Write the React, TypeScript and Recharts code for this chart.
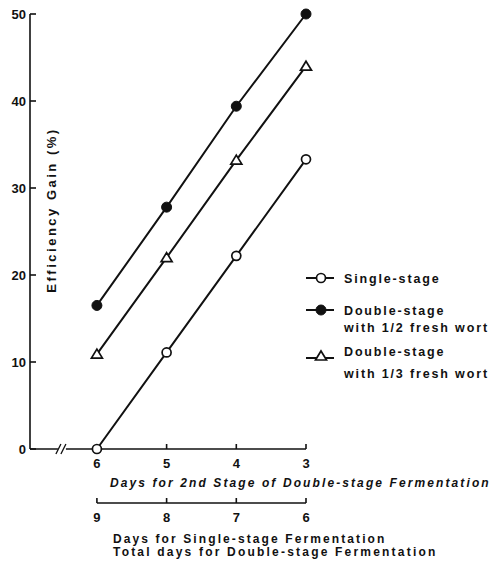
import { LineChart, Line, XAxis, YAxis, Legend } from 'recharts'

// days for 2nd stage (main axis) and total days (second axis)
const DAYS_2ND = [6, 5, 4, 3]
const DAYS_TOTAL = [9, 8, 7, 6]
const SINGLE = [0, 11.1, 22.2, 33.3]
const HALF = [16.5, 27.8, 39.4, 50]
const THIRD = [10.9, 22, 33.2, 44]
const Y_TICKS = [0, 10, 20, 30, 40, 50]

const data = DAYS_2ND.map((d, i) => ({
  day: d,
  total: DAYS_TOTAL[i],
  single: SINGLE[i],
  half: HALF[i],
  third: THIRD[i],
}))

const W = 496
const H = 570
const MARGIN = { top: 14, right: 190, bottom: 0, left: 0 }
const PLOT_RIGHT = W - MARGIN.right
const FONT = '"Liberation Sans", Arial, sans-serif'
const INK = '#111'

const txt = { fontFamily: FONT, fontWeight: 700, fill: INK } as const

const OpenCircle = ({ cx, cy }: any) => (
  <circle cx={cx} cy={cy} r={4.5} fill="#fff" stroke={INK} strokeWidth={1.7} />
)
const FilledCircle = ({ cx, cy }: any) => <circle cx={cx} cy={cy} r={5} fill={INK} stroke={INK} />
const Triangle = ({ cx, cy }: any) => (
  <path
    d={`M${cx},${cy - 5} L${cx + 5.5},${cy + 4} L${cx - 5.5},${cy + 4} Z`}
    fill="#fff"
    stroke={INK}
    strokeWidth={1.7}
  />
)

const YTick = ({ x, y, payload }: any) => (
  <g>
    <line x1={x} x2={x + 6} y1={y} y2={y} stroke={INK} strokeWidth={1.6} />
    <text x={x - 4} y={y + 4.5} textAnchor="end" fontSize={13} {...txt}>
      {payload.value}
    </text>
  </g>
)

const StageTick = ({ x, y, payload }: any) => (
  <g>
    {payload.value === DAYS_2ND[0] && (
      <g>
        <rect x={x - 39} y={y - 3} width={8} height={6} fill="#fff" />
        <line x1={x - 41} y1={y + 5} x2={x - 36} y2={y - 5} stroke={INK} strokeWidth={1.3} />
        <line x1={x - 36} y1={y + 5} x2={x - 31} y2={y - 5} stroke={INK} strokeWidth={1.3} />
      </g>
    )}
    {payload.value !== DAYS_2ND[0] && (
      <line x1={x} x2={x} y1={y} y2={y - 5} stroke={INK} strokeWidth={1.6} />
    )}
    <text x={x} y={y + 19} textAnchor="middle" fontSize={13} {...txt}>
      {payload.value}
    </text>
  </g>
)

const TotalTick = ({ x, y, payload }: any) => (
  <g>
    {payload.value === DAYS_TOTAL[0] && (
      <line x1={x} x2={PLOT_RIGHT} y1={y} y2={y} stroke={INK} strokeWidth={1.6} />
    )}
    <line x1={x} x2={x} y1={y} y2={y - 5} stroke={INK} strokeWidth={1.6} />
    <text x={x} y={y + 19} textAnchor="middle" fontSize={13} {...txt}>
      {payload.value}
    </text>
  </g>
)

const legendItems = [
  { lines: ['Single-stage'], marker: 'open', lineY: 18, textY: [18] },
  { lines: ['Double-stage', 'with 1/2 fresh wort'], marker: 'filled', lineY: 50, textY: [50, 67] },
  { lines: ['Double-stage', 'with 1/3 fresh wort'], marker: 'tri', lineY: 98, textY: [91, 113] },
]

const LegendBox = () => (
  <svg width={200} height={130}>
    {legendItems.map((item, i) => {
      const cy = item.lineY
      return (
        <g key={i}>
          <line x1={10} x2={38} y1={cy} y2={cy} stroke={INK} strokeWidth={2} />
          {item.marker === 'open' && <OpenCircle cx={25} cy={cy} />}
          {item.marker === 'filled' && <FilledCircle cx={25} cy={cy} />}
          {item.marker === 'tri' && <Triangle cx={25} cy={cy - 2} />}
          {item.lines.map((l, j) => (
            <text key={j} x={48} y={item.textY[j] + 4.5} fontSize={12.5} letterSpacing={1.85} {...txt}>
              {l}
            </text>
          ))}
        </g>
      )
    })}
  </svg>
)

export default function App() {
  return (
    <div style={{ position: 'absolute', left: 0, top: 0, background: '#fff' }}>
      <LineChart width={W} height={H} data={data} margin={MARGIN}>
        <XAxis
          xAxisId="stage"
          dataKey="day"
          type="number"
          domain={[3, 6.96]}
          reversed
          ticks={DAYS_2ND}
          interval={0}
          height={54}
          tickSize={0}
          tickMargin={0}
          tickLine={false}
          axisLine={{ stroke: INK, strokeWidth: 1.6 }}
          tick={<StageTick />}
          label={({ viewBox }: any) => (
            <text
              x={viewBox.x + 80}
              y={viewBox.y + 38}
              fontSize={12}
              fontStyle="italic"
              letterSpacing={2.1}
              {...txt}
            >
              Days for 2nd Stage of Double-stage Fermentation
            </text>
          )}
        />
        <XAxis
          xAxisId="total"
          dataKey="total"
          type="number"
          domain={[6, 9.96]}
          reversed
          ticks={DAYS_TOTAL}
          interval={0}
          height={67}
          tickSize={0}
          tickMargin={0}
          tickLine={false}
          axisLine={false}
          tick={<TotalTick />}
          label={({ viewBox }: any) => (
            <g>
              <text x={viewBox.x + 83} y={viewBox.y + 40} fontSize={12} letterSpacing={2.1} {...txt}>
                Days for Single-stage Fermentation
              </text>
              <text x={viewBox.x + 83} y={viewBox.y + 53} fontSize={12} letterSpacing={2.2} {...txt}>
                Total days for Double-stage Fermentation
              </text>
            </g>
          )}
        />
        <YAxis
          type="number"
          domain={[0, 50]}
          ticks={Y_TICKS}
          interval={0}
          width={30}
          tickSize={0}
          tickMargin={0}
          tickLine={false}
          axisLine={{ stroke: INK, strokeWidth: 1.6 }}
          tick={<YTick />}
          label={() => (
            <text
              transform="translate(56,210) rotate(-90)"
              textAnchor="middle"
              fontSize={13}
              letterSpacing={2.5}
              {...txt}
            >
              Efficiency Gain (%)
            </text>
          )}
        />
        <Legend
          layout="horizontal"
          align="center"
          verticalAlign="middle"
          content={<LegendBox />}
          wrapperStyle={{ position: 'absolute', left: 296, top: 260, width: 200 }}
        />
        <Line
          xAxisId="stage"
          dataKey="single"
          type="linear"
          stroke={INK}
          strokeWidth={2}
          dot={<OpenCircle />}
          isAnimationActive={false}
        />
        <Line
          xAxisId="stage"
          dataKey="half"
          type="linear"
          stroke={INK}
          strokeWidth={2}
          dot={<FilledCircle />}
          isAnimationActive={false}
        />
        <Line
          xAxisId="stage"
          dataKey="third"
          type="linear"
          stroke={INK}
          strokeWidth={2}
          dot={<Triangle />}
          isAnimationActive={false}
        />
      </LineChart>
    </div>
  )
}
